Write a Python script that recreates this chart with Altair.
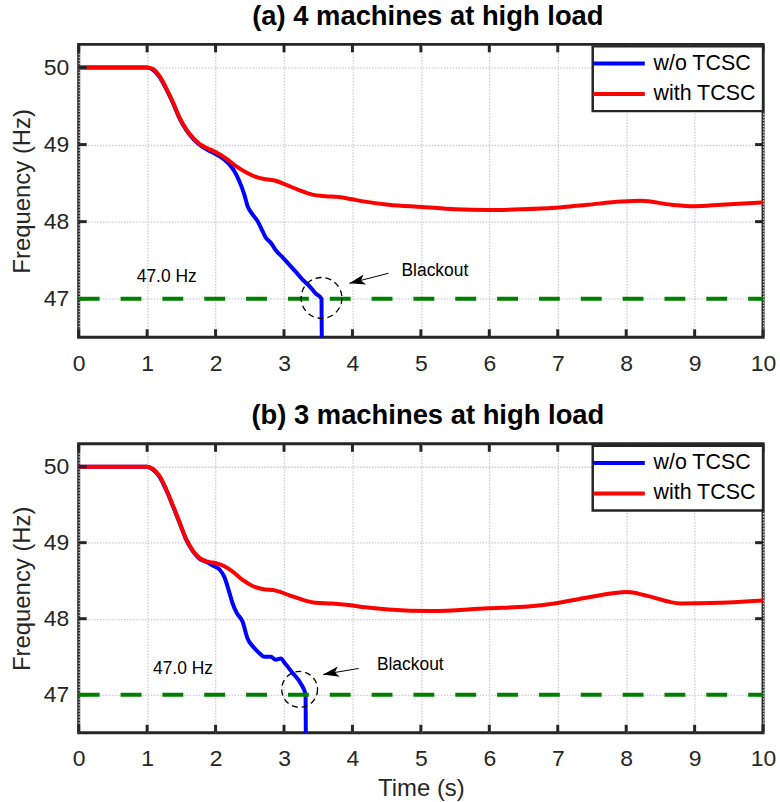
import altair as alt
import pandas as pd

FONT = "Liberation Sans"
AXIS_COLOR = "#262626"
SERIES = ["w/o TCSC", "with TCSC"]
SERIES_COLORS = ["#0000ff", "#ff0000"]
X_TICKS = list(range(0, 11))
Y_TICKS = [47, 48, 49, 50]
X_DOMAIN = [0, 10]
Y_DOMAIN = [46.5, 50.3]
THRESHOLD_T = [0, 10]
THRESHOLD_F = [47.0, 47.0]
TITLES = ["(a) 4 machines at high load", "(b) 3 machines at high load"]

# ---------- panel (a) ----------
a_red_t = [0, 1.0, 1.086, 1.18, 1.28, 1.377, 1.474, 1.57, 1.667, 1.764, 1.886, 2.007,
           2.152, 2.298, 2.443, 2.588, 2.734, 2.879, 3.025, 3.219, 3.412, 3.606, 3.8,
           3.994, 4.188, 4.527, 5.02, 5.5, 5.99, 6.47, 6.96, 7.44, 7.93, 8.22, 8.66,
           9.0, 9.39, 10.0]
a_red_f = [50, 50, 49.98, 49.89, 49.73, 49.55, 49.35, 49.2, 49.09, 49.01, 48.95, 48.9,
           48.82, 48.72, 48.64, 48.58, 48.55, 48.53, 48.48, 48.41, 48.35, 48.33, 48.32,
           48.29, 48.26, 48.22, 48.19, 48.16, 48.15, 48.16, 48.18, 48.22, 48.26, 48.27,
           48.22, 48.2, 48.22, 48.25]
a_blue_t = [0, 1.0, 1.086, 1.18, 1.28, 1.377, 1.474, 1.57, 1.667, 1.764, 1.886, 2.007,
            2.2, 2.273, 2.346, 2.419, 2.467, 2.54, 2.613, 2.685, 2.734, 2.807, 2.879,
            2.976, 3.073, 3.17, 3.267, 3.364, 3.461, 3.548, 3.552]
a_blue_f = [50, 50, 49.97, 49.88, 49.72, 49.54, 49.34, 49.19, 49.08, 49.0, 48.93, 48.875,
            48.745, 48.658, 48.528, 48.355, 48.203, 48.095, 48.009, 47.879, 47.792,
            47.727, 47.628, 47.541, 47.446, 47.351, 47.251, 47.17, 47.07, 47.0, 46.5]

# ---------- panel (b) ----------
b_red_t = [0, 1.0, 1.086, 1.18, 1.28, 1.377, 1.474, 1.57, 1.667, 1.764, 1.886, 2.007,
           2.128, 2.249, 2.395, 2.54, 2.685, 2.879, 3.073, 3.267, 3.461, 3.703, 3.946,
           4.188, 4.527, 5.157, 5.98, 6.563, 6.95, 7.435, 8.017, 8.308, 8.792, 9.373,
           10.0]
b_red_f = [50, 50, 49.97, 49.88, 49.7, 49.49, 49.27, 49.05, 48.9, 48.8, 48.75, 48.73,
           48.69, 48.62, 48.51, 48.43, 48.39, 48.37, 48.31, 48.25, 48.21, 48.2, 48.18,
           48.15, 48.12, 48.1, 48.137, 48.16, 48.2, 48.28, 48.35, 48.3, 48.2, 48.21,
           48.24]
b_blue_t = [0, 1.0, 1.086, 1.18, 1.28, 1.377, 1.474, 1.57, 1.667, 1.764, 1.886, 1.958,
            2.055, 2.128, 2.2, 2.249, 2.307, 2.395, 2.467, 2.54, 2.637, 2.71, 2.807,
            2.879, 2.952, 3.025, 3.122, 3.25, 3.315, 3.319]
b_blue_f = [50, 50, 49.96, 49.87, 49.69, 49.48, 49.26, 49.04, 48.89, 48.79, 48.74, 48.7,
            48.65, 48.55, 48.35, 48.2, 48.08, 47.96, 47.74, 47.64, 47.55, 47.5, 47.5,
            47.46, 47.475, 47.4, 47.29, 47.14, 47.0, 46.5]

# annotations (data coordinates)
CIRCLE_T = [3.548, 3.228]
CIRCLE_F = [47.01, 47.07]
CIRCLE_SIZE = [1681, 1296]
ARROW_START_T = [4.527, 4.09]
ARROW_START_F = [47.33, 47.345]
ARROW_TIP_T = [3.955, 3.571]
ARROW_TIP_F = [47.20, 47.267]
ARROW_ANGLE = [346, 350]
BLACKOUT_T = [4.716, 4.357]
BLACKOUT_F = [47.364, 47.388]
HZ_T = [0.848, 1.085]
HZ_F = [47.286, 47.342]
ANNOT_LABELS = ["Blackout", "47.0 Hz"]

PANEL_W = 687
PANEL_H = [294, 290]
TICK_LEN = 8
TICK_COLOR = AXIS_COLOR
ARROW_PATH = "M 0 0 L 2 -0.65 L 1.5 0 L 2 0.65 Z"


def panel(i, blue_t, blue_f, red_t, red_f, x_title):
    W, H = PANEL_W, PANEL_H[i]
    xs = alt.Scale(domain=X_DOMAIN, nice=False, zero=False)
    ys = alt.Scale(domain=Y_DOMAIN, nice=False, zero=False)
    df = pd.DataFrame({
        "t": blue_t + red_t,
        "f": blue_f + red_f,
        "series": [SERIES[0]] * len(blue_t) + [SERIES[1]] * len(red_t),
    })
    x_axis = alt.Axis(values=X_TICKS, ticks=False, labelPadding=15, domain=False,
                      grid=True, gridDash=[1.5, 1.5], gridColor="#cccccc", gridWidth=1.3,
                      labelFontSize=23, labelFont=FONT, labelColor=AXIS_COLOR,
                      titleFontSize=24, titleFont=FONT, titleColor=AXIS_COLOR,
                      titleFontWeight="normal", titlePadding=6, format="d",
                      labelFlush=False, title=x_title)
    y_axis = alt.Axis(values=Y_TICKS, ticks=False, labelPadding=10, domain=False,
                      grid=True, gridDash=[1.5, 1.5], gridColor="#cccccc", gridWidth=1.3,
                      labelFontSize=23, labelFont=FONT, labelColor=AXIS_COLOR,
                      titleFontSize=24, titleFont=FONT, titleColor=AXIS_COLOR,
                      titleFontWeight="normal", titlePadding=9, format="d",
                      labelFlush=False, title="Frequency (Hz)")
    X = lambda: alt.X("t:Q", scale=xs, axis=x_axis)
    Y = lambda: alt.Y("f:Q", scale=ys, axis=y_axis)

    # inward tick marks on all four sides (MATLAB box style)
    xt = alt.Chart(pd.DataFrame({"t": X_TICKS}))
    yt = alt.Chart(pd.DataFrame({"f": Y_TICKS}))
    tick_style = dict(color=TICK_COLOR, strokeWidth=3, opacity=1)
    bottom_ticks = xt.mark_rule(**tick_style).encode(
        x=X(), y=alt.value(H - TICK_LEN), y2=alt.value(H))
    top_ticks = xt.mark_rule(**tick_style).encode(
        x=X(), y=alt.value(0), y2=alt.value(TICK_LEN))
    left_ticks = yt.mark_rule(**tick_style).encode(
        y=Y(), x=alt.value(0), x2=alt.value(TICK_LEN))
    right_ticks = yt.mark_rule(**tick_style).encode(
        y=Y(), x=alt.value(W - TICK_LEN), x2=alt.value(W))

    lines = alt.Chart(df).mark_line(strokeWidth=4, interpolate="monotone").encode(
        x=X(), y=Y(),
        color=alt.Color("series:N", scale=alt.Scale(domain=SERIES, range=SERIES_COLORS),
                        legend=alt.Legend(orient="none", legendX=516, legendY=2,
                                          title=None, symbolType="M -3.5 0 L 3.5 0",
                                          symbolSize=221, symbolStrokeWidth=4,
                                          symbolOffset=9, labelOffset=24,
                                          labelFontSize=21.5, labelFont=FONT,
                                          labelColor="black", padding=6.5,
                                          rowPadding=7.5, strokeColor=AXIS_COLOR,
                                          fillColor="white")),
    )
    green_df = pd.DataFrame({"t": THRESHOLD_T, "f": THRESHOLD_F})
    green = alt.Chart(green_df).mark_line(color="#007f00", strokeWidth=4,
                                          strokeDash=[21, 21]).encode(x=X(), y=Y())
    circ_df = pd.DataFrame({"t": [CIRCLE_T[i]], "f": [CIRCLE_F[i]]})
    circle = alt.Chart(circ_df).mark_point(shape="circle", size=CIRCLE_SIZE[i],
                                           filled=False, color="black", opacity=1,
                                           strokeWidth=1.3, strokeDash=[6, 4]).encode(
        x=X(), y=Y())
    arrow_df = pd.DataFrame({"t": [ARROW_START_T[i], ARROW_TIP_T[i]],
                             "f": [ARROW_START_F[i], ARROW_TIP_F[i]]})
    arrow = alt.Chart(arrow_df).mark_line(color="black", strokeWidth=1).encode(
        x=X(), y=Y())
    head_df = pd.DataFrame({"t": [ARROW_TIP_T[i]], "f": [ARROW_TIP_F[i]]})
    head = alt.Chart(head_df).mark_point(shape=ARROW_PATH, size=256, filled=True,
                                         color="black", opacity=1,
                                         angle=ARROW_ANGLE[i]).encode(x=X(), y=Y())
    text_df = pd.DataFrame({"t": [BLACKOUT_T[i], HZ_T[i]], "f": [BLACKOUT_F[i], HZ_F[i]],
                            "label": ANNOT_LABELS})
    texts = alt.Chart(text_df).mark_text(align="left", baseline="middle", fontSize=17.5,
                                         font=FONT, color="black").encode(
        x=X(), y=Y(), text="label:N")
    return alt.layer(lines, bottom_ticks, top_ticks, left_ticks, right_ticks, green,
                     circle, arrow, head, texts).properties(
        width=W, height=H,
        title=alt.TitleParams(TITLES[i], fontSize=27.5, fontWeight="bold", font=FONT,
                              color="black", anchor="middle", baseline="alphabetic",
                              offset=17, dy=26.5, dx=7),
    )


pa = panel(0, a_blue_t, a_blue_f, a_red_t, a_red_f, None)
pb = panel(1, b_blue_t, b_blue_f, b_red_t, b_red_f, "Time (s)")

chart = alt.vconcat(pa, pb, spacing=107, bounds="flush").resolve_scale(
    color="independent"
).resolve_legend(color="independent").properties(
    padding={"left": 8, "top": 0, "right": 2, "bottom": 2}
).configure_view(
    stroke=AXIS_COLOR, strokeWidth=3
).configure_legend(
    strokeWidth=2.5
)

chart.save("out.html", embed_options={"renderer": "svg", "actions": False})
